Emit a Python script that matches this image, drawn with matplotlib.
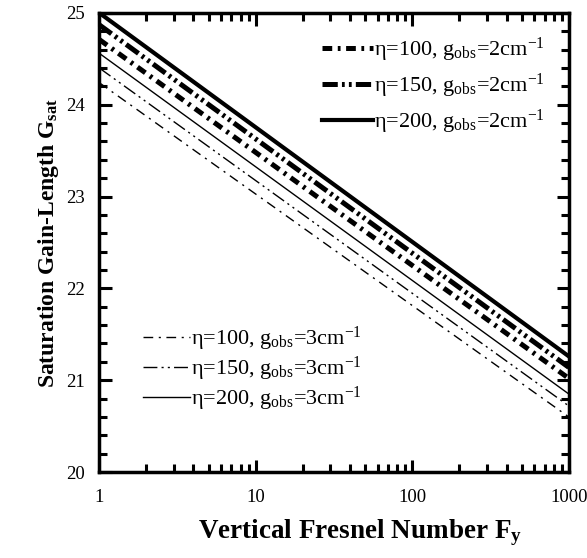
import matplotlib
matplotlib.use("Agg")
import matplotlib.pyplot as plt
from matplotlib.ticker import MultipleLocator, LogLocator, NullFormatter, FixedLocator, FixedFormatter

plt.rcParams['font.family'] = ['Liberation Serif', 'DejaVu Serif']
plt.rcParams['mathtext.fontset'] = 'custom'
plt.rcParams['mathtext.rm'] = 'Liberation Serif'
plt.rcParams['mathtext.it'] = 'Liberation Serif'
plt.rcParams['mathtext.bf'] = 'Liberation Serif:bold'
plt.rcParams['lines.scale_dashes'] = False

# Data: endpoints of each straight (in log-x) curve
fresnel = [1, 1000]
g2_eta100 = [24.71, 21.02]
g2_eta150 = [24.87, 21.14]
g2_eta200 = [25.00, 21.26]
g3_eta100 = [24.24, 20.60]
g3_eta150 = [24.40, 20.72]
g3_eta200 = [24.56, 20.85]

labels_g2 = ['η=100, g$_{\\rm obs}$=2cm$^{-1}$',
             'η=150, g$_{\\rm obs}$=2cm$^{-1}$',
             'η=200, g$_{\\rm obs}$=2cm$^{-1}$']
labels_g3 = ['η=100, g$_{\\rm obs}$=3cm$^{-1}$',
             'η=150, g$_{\\rm obs}$=3cm$^{-1}$',
             'η=200, g$_{\\rm obs}$=3cm$^{-1}$']
xtick_vals = [1, 10, 100, 1000]
xtick_labels = ['1', '10', '100', '1000']
ytick_vals = [20, 21, 22, 23, 24, 25]

fig = plt.figure(figsize=(5.87, 5.58), dpi=100)
ax = fig.add_axes([0.169, 0.154, 0.800, 0.823])

l1, = ax.plot(fresnel, g2_eta100, color='black', lw=3.6, dashes=(7, 4, 2, 4))
l2, = ax.plot(fresnel, g2_eta150, color='black', lw=3.6, dashes=(11, 3, 2, 3, 2, 3))
l3, = ax.plot(fresnel, g2_eta200, color='black', lw=3.0)
l4, = ax.plot(fresnel, g3_eta100, color='black', lw=1.0, dashes=(7, 4, 1.5, 4))
l5, = ax.plot(fresnel, g3_eta150, color='black', lw=1.0, dashes=(10, 3, 1.5, 3, 1.5, 3))
l6, = ax.plot(fresnel, g3_eta200, color='black', lw=1.0)

ax.set_xscale('log')
ax.set_xlim(1, 1000)
ax.set_ylim(20, 25)

ax.xaxis.set_major_locator(FixedLocator(xtick_vals))
ax.xaxis.set_major_formatter(FixedFormatter(xtick_labels))
ax.xaxis.set_minor_locator(LogLocator(base=10, subs=range(2, 10)))
ax.xaxis.set_minor_formatter(NullFormatter())
ax.yaxis.set_major_locator(FixedLocator(ytick_vals))
ax.yaxis.set_minor_locator(MultipleLocator(0.2))

ax.tick_params(which='both', direction='in', top=True, right=True, width=2.2, labelsize=13.5)
ax.tick_params(which='major', length=9)
ax.tick_params(which='minor', length=6)
ax.tick_params(axis='x', which='major', pad=12)
ax.tick_params(axis='y', which='major', pad=10)
for s in ax.spines.values():
    s.set_linewidth(2.5)

ax.set_xlabel('Vertical Fresnel Number F$_{\\bf y}$', fontsize=19.5, fontweight='bold', labelpad=8)
ax.xaxis.label.set_x(0.555)
ax.set_ylabel('Saturation Gain-Length G$_{\\bf sat}$', fontsize=17, fontweight='bold', labelpad=4)

leg1 = ax.legend([l1, l2, l3], labels_g2, loc='upper left', bbox_to_anchor=(26.5, 24.75),
                 bbox_transform=ax.transData,
                 frameon=False, fontsize=16, handlelength=2.3, handletextpad=0.05,
                 labelspacing=0.35, borderaxespad=0, borderpad=0)
ax.add_artist(leg1)
ax.legend([l4, l5, l6], labels_g3, loc='lower left', bbox_to_anchor=(1.91, 20.64),
          bbox_transform=ax.transData,
          frameon=False, fontsize=16, handlelength=2.1, handletextpad=0.05,
          labelspacing=0.08, borderaxespad=0, borderpad=0)

fig.savefig('out.png', dpi=100)
